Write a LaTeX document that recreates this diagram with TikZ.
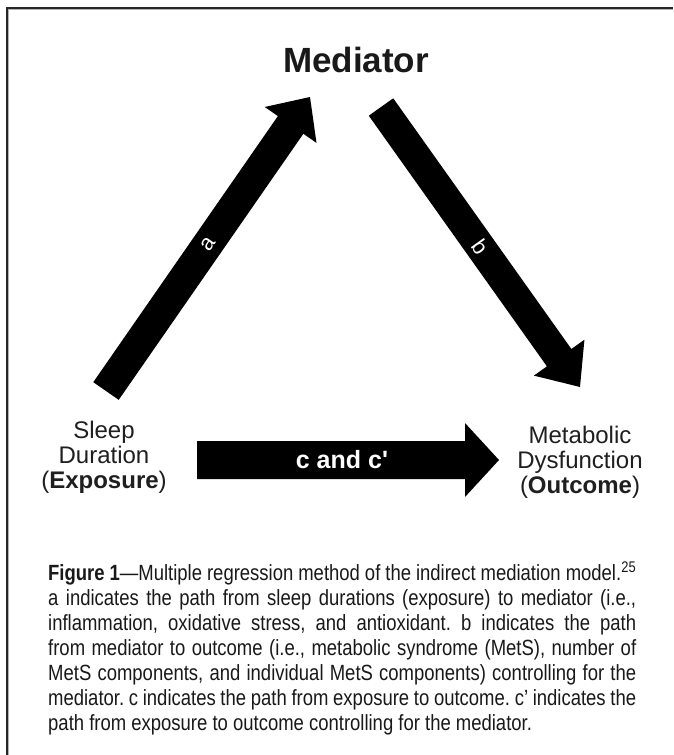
\documentclass[tikz,border=0pt]{standalone}
\usepackage{fontspec}
\setmainfont{Liberation Sans}
\newfontfamily\capfont{Liberation Sans}[FakeStretch=0.84]
\usetikzlibrary{calc}
\tolerance=10000 \hbadness=10000 \hfuzz=3pt
\frenchspacing
% #1 tail, #2 tip, #3 half shaft width, #4 half head width, #5 head length
\newcommand\blockarrow[5]{%
  \path ($(#2)!#5!(#1)$) coordinate (hb);
  \fill[arrowfill] ($(#1)!#3!90:(#2)$) -- ($(hb)!#3!90:(#2)$) -- ($(hb)!#4!90:(#2)$)
    -- (#2) -- ($(hb)!#4!-90:(#2)$) -- ($(hb)!#3!-90:(#2)$) -- ($(#1)!#3!-90:(#2)$) -- cycle;
}
\begin{document}
\begin{tikzpicture}[x=1pt,y=-1pt,
  lbl/.style={font=\fontsize{24}{25}\selectfont, text=black!88, align=center, inner sep=0pt},
  arrowfill/.style={fill=black},
  arrowtext/.style={text=white, inner sep=0pt, font=\fontsize{22}{24}\selectfont},
  frameline/.style={line width=1.6pt, draw=black!85},
  captext/.style={font=\capfont\fontsize{22}{25}\selectfont\frenchspacing, text=black!90, inner sep=0pt,
    text width=588pt, align=justify, anchor=north west}]
\useasboundingbox (0,0) rectangle (673,755);
\fill[white] (0,0) rectangle (673,755);
\draw[frameline] (7,755) -- (7,8) -- (673,8);
\draw[black!30, line width=0.6pt] (8.7,755) -- (8.7,9.7) -- (673,9.7);

\node[font=\bfseries\fontsize{35}{40}\selectfont, anchor=base, inner sep=0pt, text=black!90] (med) at (356,72) {Mediator};
\node[lbl] (exp) at (104,457) {Sleep\\Duration\\(\textbf{Exposure})};
\node[lbl] (out) at (580,462) {Metabolic\\Dysfunction\\(\textbf{Outcome})};

\coordinate (aT) at (106,391); \coordinate (aH) at (310,97);
\coordinate (bT) at (381,107); \coordinate (bH) at (580,387);
\coordinate (cT) at (197,460); \coordinate (cH) at (499,460);

\blockarrow{aT}{aH}{15.5pt}{31.5pt}{34pt}
\blockarrow{bT}{bH}{15pt}{31pt}{36pt}
\blockarrow{cT}{cH}{19pt}{37pt}{34pt}

\path (aT) -- (aH) node[arrowtext, midway, sloped] (la) {a};
\path (bT) -- (bH) node[arrowtext, midway, sloped] (lb) {b};
\path (cT) -- (cH) node[arrowtext, pos=0.48, font=\bfseries\fontsize{25}{28}\selectfont] (lc) {c and c\textquotesingle};

\node[captext] (cap) at (48,562) {\textbf{Figure 1}—Multiple regression method of the indirect mediation model.\textsuperscript{25}\\
a indicates the path from sleep durations (exposure) to mediator (i.e.,\linebreak
inflammation, oxidative stress, and antioxidant. b indicates the path\linebreak
from mediator to outcome (i.e., metabolic syndrome (MetS), number of\linebreak
MetS components, and individual MetS components) controlling for the\linebreak
mediator. c indicates the path from exposure to outcome. c’ indicates the\linebreak
path from exposure to outcome controlling for the mediator.};
\end{tikzpicture}
\end{document}
